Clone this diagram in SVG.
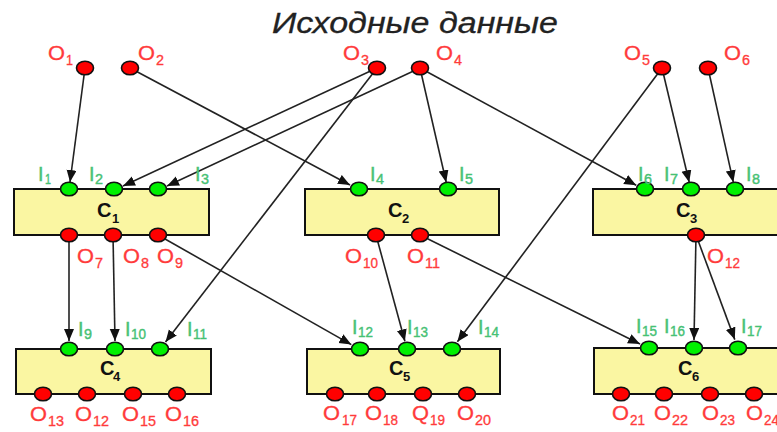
<svg xmlns="http://www.w3.org/2000/svg" width="777" height="432" viewBox="0 0 777 432">
<style>
.t{font-family:"Liberation Sans",Arial,sans-serif;}
.m{font-size:21px;}
.s{font-size:14px;}
.r{fill:#FF3B3B;stroke:#FF3B3B;stroke-width:0.3;}
.g{fill:#46C174;stroke:#46C174;stroke-width:0.4;}
.c{font-size:20px;font-weight:bold;fill:#111;}
.cs{font-size:13px;font-weight:bold;fill:#111;}
.box{fill:#FAF6A2;stroke:#111;stroke-width:2;}
.po{fill:#FF0000;stroke:#111;stroke-width:1.6;}
.pi{fill:#00F000;stroke:#111;stroke-width:1.6;}
.ln{stroke:#222;stroke-width:1.6;fill:none;marker-end:url(#ah);}
</style>
<defs>
<marker id="ah" markerUnits="userSpaceOnUse" markerWidth="13" markerHeight="11" refX="12" refY="5" orient="auto">
<path d="M0,0 L12,5 L0,10 Z" fill="#111"/>
</marker>
</defs>
<rect width="777" height="432" fill="#fff"/>
<text class="t" x="272" y="33" font-size="29" font-style="italic" fill="#222" stroke="#222" stroke-width="0.3" textLength="286" lengthAdjust="spacingAndGlyphs">Исходные данные</text>

<g id="connectors">
<line class="ln" x1="85" y1="68" x2="70" y2="182"/>
<line class="ln" x1="130" y1="68" x2="350" y2="185"/>
<line class="ln" x1="377" y1="68" x2="123" y2="186"/>
<line class="ln" x1="377" y1="68" x2="165.5" y2="342"/>
<line class="ln" x1="420" y1="68" x2="167" y2="186"/>
<line class="ln" x1="420" y1="68" x2="446.2" y2="182.2"/>
<line class="ln" x1="420" y1="68" x2="636.2" y2="185.2"/>
<line class="ln" x1="662" y1="68" x2="689.2" y2="182.2"/>
<line class="ln" x1="662" y1="68" x2="457.4" y2="341.8"/>
<line class="ln" x1="708" y1="68" x2="733.3" y2="182.2"/>
<line class="ln" x1="69" y1="235" x2="69" y2="341"/>
<line class="ln" x1="113" y1="235" x2="115" y2="341"/>
<line class="ln" x1="158" y1="235" x2="351.3" y2="344.6"/>
<line class="ln" x1="376" y1="235" x2="404.9" y2="341.3"/>
<line class="ln" x1="420" y1="235" x2="640" y2="344"/>
<line class="ln" x1="696" y1="235" x2="694" y2="340"/>
<line class="ln" x1="696" y1="235" x2="734.8" y2="339.6"/>
</g>

<g id="O1"><ellipse class="po" cx="85" cy="68" rx="8.5" ry="6.8"/><text class="t m r" x="48" y="60" textLength="17" lengthAdjust="spacingAndGlyphs">O</text><text class="t s r" x="66" y="65" textLength="7" lengthAdjust="spacingAndGlyphs">1</text></g>
<g id="O2"><ellipse class="po" cx="130" cy="68" rx="8.5" ry="6.8"/><text class="t m r" x="138" y="60" textLength="17" lengthAdjust="spacingAndGlyphs">O</text><text class="t s r" x="156" y="65" textLength="8" lengthAdjust="spacingAndGlyphs">2</text></g>
<g id="O3"><ellipse class="po" cx="377" cy="68" rx="8.5" ry="6.8"/><text class="t m r" x="343" y="60" textLength="17" lengthAdjust="spacingAndGlyphs">O</text><text class="t s r" x="361" y="65" textLength="8" lengthAdjust="spacingAndGlyphs">3</text></g>
<g id="O4"><ellipse class="po" cx="420" cy="68" rx="8.5" ry="6.8"/><text class="t m r" x="436" y="60" textLength="17" lengthAdjust="spacingAndGlyphs">O</text><text class="t s r" x="454" y="65" textLength="8" lengthAdjust="spacingAndGlyphs">4</text></g>
<g id="O5"><ellipse class="po" cx="662" cy="68" rx="8.5" ry="6.8"/><text class="t m r" x="624" y="60" textLength="17" lengthAdjust="spacingAndGlyphs">O</text><text class="t s r" x="642" y="65" textLength="8" lengthAdjust="spacingAndGlyphs">5</text></g>
<g id="O6"><ellipse class="po" cx="708" cy="68" rx="8.5" ry="6.8"/><text class="t m r" x="724" y="60" textLength="17" lengthAdjust="spacingAndGlyphs">O</text><text class="t s r" x="742" y="65" textLength="8" lengthAdjust="spacingAndGlyphs">6</text></g>

<g id="C1">
<rect class="box" x="14" y="189" width="195" height="46"/>
<text class="t c" x="97" y="217">C</text><text class="t cs" x="112" y="223">1</text>
<ellipse class="pi" cx="69" cy="189" rx="8.5" ry="6.8"/><ellipse class="pi" cx="114" cy="189" rx="8.5" ry="6.8"/><ellipse class="pi" cx="158" cy="189" rx="8.5" ry="6.8"/>
<ellipse class="po" cx="69" cy="235" rx="8.5" ry="6.8"/><ellipse class="po" cx="113" cy="235" rx="8.5" ry="6.8"/><ellipse class="po" cx="158" cy="235" rx="8.5" ry="6.8"/>
<text class="t m g" x="38" y="181" textLength="5.5" lengthAdjust="spacingAndGlyphs">I</text><text class="t s g" x="45" y="184" textLength="6" lengthAdjust="spacingAndGlyphs">1</text>
<text class="t m g" x="89" y="181" textLength="5.5" lengthAdjust="spacingAndGlyphs">I</text><text class="t s g" x="95" y="184" textLength="8" lengthAdjust="spacingAndGlyphs">2</text>
<text class="t m g" x="195" y="181" textLength="5.5" lengthAdjust="spacingAndGlyphs">I</text><text class="t s g" x="201" y="184" textLength="8" lengthAdjust="spacingAndGlyphs">3</text>
<text class="t m r" x="77" y="263" textLength="17" lengthAdjust="spacingAndGlyphs">O</text><text class="t s r" x="95" y="268" textLength="8" lengthAdjust="spacingAndGlyphs">7</text>
<text class="t m r" x="123" y="263" textLength="17" lengthAdjust="spacingAndGlyphs">O</text><text class="t s r" x="141" y="268" textLength="8" lengthAdjust="spacingAndGlyphs">8</text>
<text class="t m r" x="157" y="263" textLength="17" lengthAdjust="spacingAndGlyphs">O</text><text class="t s r" x="175" y="268" textLength="8" lengthAdjust="spacingAndGlyphs">9</text>
</g>

<g id="C2">
<rect class="box" x="305" y="189" width="194" height="46"/>
<text class="t c" x="388" y="217">C</text><text class="t cs" x="402" y="223">2</text>
<ellipse class="pi" cx="359" cy="189" rx="8.5" ry="6.8"/><ellipse class="pi" cx="448" cy="189" rx="8.5" ry="6.8"/>
<ellipse class="po" cx="376" cy="235" rx="8.5" ry="6.8"/><ellipse class="po" cx="420" cy="235" rx="8.5" ry="6.8"/>
<text class="t m g" x="370" y="181" textLength="5.5" lengthAdjust="spacingAndGlyphs">I</text><text class="t s g" x="376" y="184" textLength="8" lengthAdjust="spacingAndGlyphs">4</text>
<text class="t m g" x="459" y="181" textLength="5.5" lengthAdjust="spacingAndGlyphs">I</text><text class="t s g" x="465" y="184" textLength="8" lengthAdjust="spacingAndGlyphs">5</text>
<text class="t m r" x="345" y="263" textLength="17" lengthAdjust="spacingAndGlyphs">O</text><text class="t s r" x="363" y="268" textLength="15" lengthAdjust="spacingAndGlyphs">10</text>
<text class="t m r" x="407" y="263" textLength="17" lengthAdjust="spacingAndGlyphs">O</text><text class="t s r" x="425" y="268" textLength="15" lengthAdjust="spacingAndGlyphs">11</text>
</g>

<g id="C3">
<rect class="box" x="593" y="189" width="200" height="46"/>
<text class="t c" x="676" y="217">C</text><text class="t cs" x="690" y="223">3</text>
<ellipse class="pi" cx="645" cy="189" rx="8.5" ry="6.8"/><ellipse class="pi" cx="691" cy="189" rx="8.5" ry="6.8"/><ellipse class="pi" cx="735" cy="189" rx="8.5" ry="6.8"/>
<ellipse class="po" cx="696" cy="235" rx="8.5" ry="6.8"/>
<text class="t m g" x="638" y="181" textLength="5.5" lengthAdjust="spacingAndGlyphs">I</text><text class="t s g" x="644" y="184" textLength="8" lengthAdjust="spacingAndGlyphs">6</text>
<text class="t m g" x="664" y="181" textLength="5.5" lengthAdjust="spacingAndGlyphs">I</text><text class="t s g" x="670" y="184" textLength="8" lengthAdjust="spacingAndGlyphs">7</text>
<text class="t m g" x="746" y="181" textLength="5.5" lengthAdjust="spacingAndGlyphs">I</text><text class="t s g" x="752" y="184" textLength="8" lengthAdjust="spacingAndGlyphs">8</text>
<text class="t m r" x="707" y="263" textLength="17" lengthAdjust="spacingAndGlyphs">O</text><text class="t s r" x="725" y="268" textLength="15" lengthAdjust="spacingAndGlyphs">12</text>
</g>

<g id="C4">
<rect class="box" x="16" y="349" width="195" height="45"/>
<text class="t c" x="100" y="375">C</text><text class="t cs" x="113" y="381">4</text>
<ellipse class="pi" cx="69" cy="349" rx="8.5" ry="6.8"/><ellipse class="pi" cx="115" cy="349" rx="8.5" ry="6.8"/><ellipse class="pi" cx="160" cy="349" rx="8.5" ry="6.8"/>
<ellipse class="po" cx="43" cy="394" rx="8.5" ry="6.8"/><ellipse class="po" cx="87" cy="394" rx="8.5" ry="6.8"/><ellipse class="po" cx="133" cy="394" rx="8.5" ry="6.8"/><ellipse class="po" cx="177" cy="394" rx="8.5" ry="6.8"/>
<text class="t m g" x="78" y="336" textLength="5.5" lengthAdjust="spacingAndGlyphs">I</text><text class="t s g" x="84" y="339" textLength="8" lengthAdjust="spacingAndGlyphs">9</text>
<text class="t m g" x="125" y="336" textLength="5.5" lengthAdjust="spacingAndGlyphs">I</text><text class="t s g" x="131" y="339" textLength="15" lengthAdjust="spacingAndGlyphs">10</text>
<text class="t m g" x="187" y="336" textLength="5.5" lengthAdjust="spacingAndGlyphs">I</text><text class="t s g" x="193" y="339" textLength="14" lengthAdjust="spacingAndGlyphs">11</text>
<text class="t m r" x="30" y="421" textLength="17" lengthAdjust="spacingAndGlyphs">O</text><text class="t s r" x="48" y="426" textLength="16" lengthAdjust="spacingAndGlyphs">13</text>
<text class="t m r" x="75" y="421" textLength="17" lengthAdjust="spacingAndGlyphs">O</text><text class="t s r" x="93" y="426" textLength="16" lengthAdjust="spacingAndGlyphs">12</text>
<text class="t m r" x="122" y="421" textLength="17" lengthAdjust="spacingAndGlyphs">O</text><text class="t s r" x="140" y="426" textLength="16" lengthAdjust="spacingAndGlyphs">15</text>
<text class="t m r" x="165" y="421" textLength="17" lengthAdjust="spacingAndGlyphs">O</text><text class="t s r" x="183" y="426" textLength="16" lengthAdjust="spacingAndGlyphs">16</text>
</g>

<g id="C5">
<rect class="box" x="307" y="349" width="193" height="45"/>
<text class="t c" x="389" y="375">C</text><text class="t cs" x="403" y="381">5</text>
<ellipse class="pi" cx="360" cy="349" rx="8.5" ry="6.8"/><ellipse class="pi" cx="407" cy="349" rx="8.5" ry="6.8"/><ellipse class="pi" cx="452" cy="349" rx="8.5" ry="6.8"/>
<ellipse class="po" cx="335" cy="394" rx="8.5" ry="6.8"/><ellipse class="po" cx="377" cy="394" rx="8.5" ry="6.8"/><ellipse class="po" cx="423" cy="394" rx="8.5" ry="6.8"/><ellipse class="po" cx="467" cy="394" rx="8.5" ry="6.8"/>
<text class="t m g" x="352" y="334" textLength="5.5" lengthAdjust="spacingAndGlyphs">I</text><text class="t s g" x="358" y="337" textLength="15" lengthAdjust="spacingAndGlyphs">12</text>
<text class="t m g" x="407" y="334" textLength="5.5" lengthAdjust="spacingAndGlyphs">I</text><text class="t s g" x="413" y="337" textLength="15" lengthAdjust="spacingAndGlyphs">13</text>
<text class="t m g" x="478" y="334" textLength="5.5" lengthAdjust="spacingAndGlyphs">I</text><text class="t s g" x="484" y="337" textLength="15" lengthAdjust="spacingAndGlyphs">14</text>
<text class="t m r" x="323" y="420" textLength="17" lengthAdjust="spacingAndGlyphs">O</text><text class="t s r" x="342" y="425" textLength="15" lengthAdjust="spacingAndGlyphs">17</text>
<text class="t m r" x="365" y="420" textLength="17" lengthAdjust="spacingAndGlyphs">O</text><text class="t s r" x="383" y="425" textLength="15" lengthAdjust="spacingAndGlyphs">18</text>
<text class="t m r" x="412" y="420" textLength="17" lengthAdjust="spacingAndGlyphs">Q</text><text class="t s r" x="430" y="425" textLength="15" lengthAdjust="spacingAndGlyphs">19</text>
<text class="t m r" x="457" y="420" textLength="17" lengthAdjust="spacingAndGlyphs">O</text><text class="t s r" x="475" y="425" textLength="16" lengthAdjust="spacingAndGlyphs">20</text>
</g>

<g id="C6">
<rect class="box" x="594" y="348" width="200" height="46"/>
<text class="t c" x="678" y="375">C</text><text class="t cs" x="692" y="381">6</text>
<ellipse class="pi" cx="649" cy="348" rx="8.5" ry="6.8"/><ellipse class="pi" cx="694" cy="348" rx="8.5" ry="6.8"/><ellipse class="pi" cx="738" cy="348" rx="8.5" ry="6.8"/>
<ellipse class="po" cx="621" cy="394" rx="8.5" ry="6.8"/><ellipse class="po" cx="664" cy="394" rx="8.5" ry="6.8"/><ellipse class="po" cx="710" cy="394" rx="8.5" ry="6.8"/><ellipse class="po" cx="754" cy="394" rx="8.5" ry="6.8"/>
<text class="t m g" x="636" y="333" textLength="5.5" lengthAdjust="spacingAndGlyphs">I</text><text class="t s g" x="642" y="336" textLength="15" lengthAdjust="spacingAndGlyphs">15</text>
<text class="t m g" x="664" y="333" textLength="5.5" lengthAdjust="spacingAndGlyphs">I</text><text class="t s g" x="670" y="336" textLength="15" lengthAdjust="spacingAndGlyphs">16</text>
<text class="t m g" x="741" y="333" textLength="5.5" lengthAdjust="spacingAndGlyphs">I</text><text class="t s g" x="747" y="336" textLength="15" lengthAdjust="spacingAndGlyphs">17</text>
<text class="t m r" x="612" y="420" textLength="17" lengthAdjust="spacingAndGlyphs">O</text><text class="t s r" x="630" y="425" textLength="15" lengthAdjust="spacingAndGlyphs">21</text>
<text class="t m r" x="654" y="420" textLength="17" lengthAdjust="spacingAndGlyphs">O</text><text class="t s r" x="672" y="425" textLength="16" lengthAdjust="spacingAndGlyphs">22</text>
<text class="t m r" x="702" y="420" textLength="17" lengthAdjust="spacingAndGlyphs">O</text><text class="t s r" x="720" y="425" textLength="15" lengthAdjust="spacingAndGlyphs">23</text>
<text class="t m r" x="746" y="420" textLength="17" lengthAdjust="spacingAndGlyphs">O</text><text class="t s r" x="764" y="425" textLength="15" lengthAdjust="spacingAndGlyphs">24</text>
</g>
</svg>
